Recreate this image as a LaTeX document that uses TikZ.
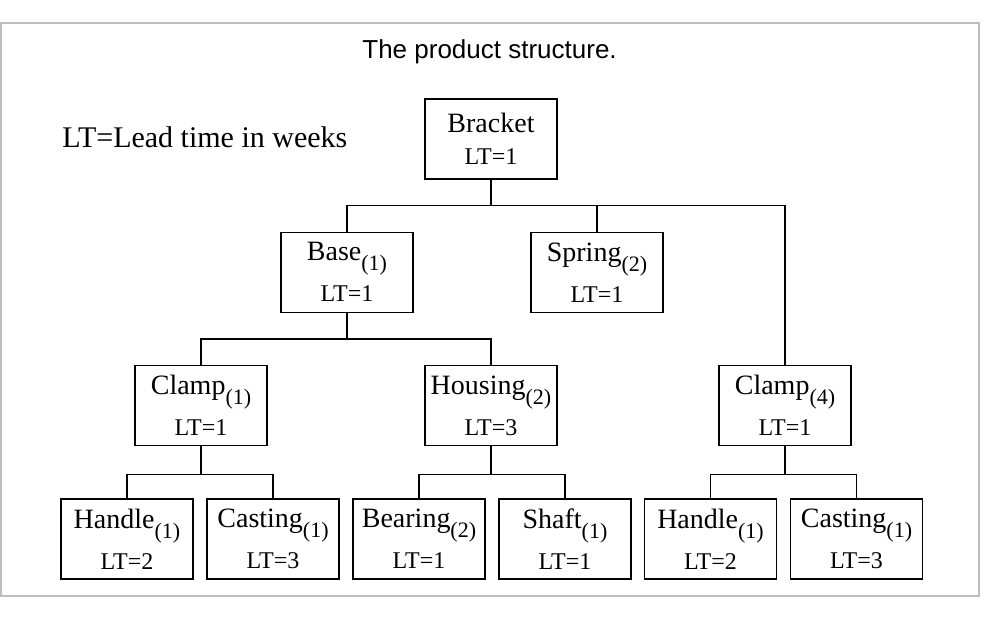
\documentclass[tikz,border=0pt]{standalone}
\usepackage{fontspec}
\setmainfont{Liberation Serif}
\newfontfamily\titlefont{Liberation Sans}
\usepackage{tikz}
\usetikzlibrary{positioning}
\usepackage{xcolor}
\definecolor{framegrey}{HTML}{BDBDBD}
\newcommand{\qtysub}[1]{\raisebox{-5pt}{\fontsize{11}{11}\selectfont(#1)}}
\newcommand{\ltline}[1]{{\fontsize{12}{20.5}\selectfont LT=#1}}

\begin{document}
\begin{tikzpicture}[
  x=1pt, y=1pt,
  part/.style={draw, line width=0.65pt, align=center, minimum width=66pt, minimum height=40pt, inner sep=0pt, font=\fontsize{14}{20.5}\selectfont},
  link/.style={line width=0.65pt},
  down/.style={below=26pt of #1}
]
\useasboundingbox (0,0) rectangle (497,-321);
\draw[framegrey, line width=0.7pt] (0.5,-11.5) rectangle (489.5,-298);

\node[anchor=base west, inner sep=0pt, font=\titlefont\fontsize{13}{13}\selectfont] (title) at (181,-29.2) {The product structure.};
\node[anchor=base west, inner sep=0pt, font=\fontsize{15}{15}\selectfont] (legend) at (31,-74) {LT=Lead time in weeks};

\node[part] (bracket) at (245.5,-69.5) {Bracket\\[-4.5pt]\ltline{1}};

\node[part, down=bracket, xshift=-72pt] (base) {Base\qtysub{1}\\\ltline{1}};
\node[part, down=bracket, xshift=53pt] (spring) {Spring\qtysub{2}\\\ltline{1}};

\node[part, down=base, xshift=-73pt] (clampA) {Clamp\qtysub{1}\\\ltline{1}};
\node[part, down=base, xshift=72pt] (housing) {Housing\qtysub{2}\\\ltline{3}};
\node[part, down=spring, xshift=94pt] (clampB) {Clamp\qtysub{4}\\\ltline{1}};

\node[part, down=clampA, xshift=-37pt] (handleA) {Handle\qtysub{1}\\\ltline{2}};
\node[part, down=clampA, xshift=36pt] (castingA) {Casting\qtysub{1}\\\ltline{3}};
\node[part, down=housing, xshift=-36pt] (bearing) {Bearing\qtysub{2}\\\ltline{1}};
\node[part, down=housing, xshift=37pt] (shaft) {Shaft\qtysub{1}\\\ltline{1}};
\node[part, down=clampB, xshift=-37.25pt] (handleB) {Handle\qtysub{1}\\\ltline{2}};
\node[part, down=clampB, xshift=35.75pt] (castingB) {Casting\qtysub{1}\\\ltline{3}};

\path (bracket.south) ++(0,-13) coordinate (busA);
\path (base.south) ++(0,-13) coordinate (busB);
\path (clampA.south) ++(0,-14) coordinate (busC);
\path (housing.south) ++(0,-14) coordinate (busD);
\path (clampB.south) ++(0,-14) coordinate (busE);

\draw[link] (bracket.south) -- (busA);
\draw[link] (base.north) |- (busA) -| (clampB.north);
\draw[link] (spring.north) -- (spring.north |- busA);

\draw[link] (base.south) -- (busB);
\draw[link] (clampA.north) |- (busB) -| (housing.north);

\draw[link] (clampA.south) -- (busC);
\draw[link] (handleA.north) |- (busC) -| (castingA.north);
\draw[link] (housing.south) -- (busD);
\draw[link] (bearing.north) |- (busD) -| (shaft.north);
\draw[link] (clampB.south) -- (busE);
\draw[link] (handleB.north) |- (busE) -| (castingB.north);

\end{tikzpicture}
\end{document}
